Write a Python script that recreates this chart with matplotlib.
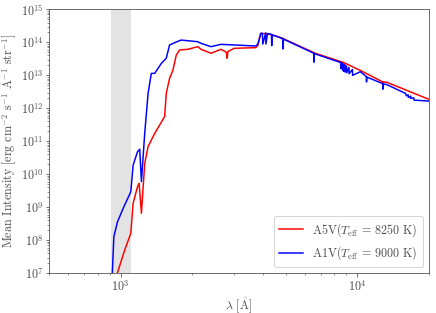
import numpy as np
import matplotlib
matplotlib.use('Agg')
import matplotlib.pyplot as plt

plt.rcParams['font.family'] = 'serif'
plt.rcParams['font.serif'] = ['cmr10']
plt.rcParams['mathtext.fontset'] = 'cm'
plt.rcParams['axes.formatter.use_mathtext'] = True
plt.rcParams['font.size'] = 12

# Espectros (lambda en Angstrom, log10 de la intensidad)
lam_a1v = [923, 937, 971, 1026, 1105, 1130, 1179, 1205, 1225, 1265, 1307, 1349, 1394,
           1486, 1560, 1611, 1691, 1803, 2119, 2188, 2410, 2655, 3724, 3800, 3911,
           3970, 3990, 4100, 4110, 4175, 4340, 4350, 4360, 4601, 4850, 4861, 4875,
           6551, 6563, 6575, 8500, 8540, 8560, 8660, 8680, 8750, 8760, 8860, 8870,
           9010, 9020, 9220, 9230, 9540, 9550, 10300, 10930, 10940, 10950, 12800,
           12818, 12830, 13330, 16000, 16100, 16400, 16420, 16800, 16810, 17300,
           17360, 19950]
logI_a1v = [7.0, 8.11, 8.56, 8.97, 9.47, 10.28, 10.68, 10.76, 9.78, 11.24, 12.45, 13.06,
            13.06, 13.36, 13.52, 13.92, 13.99, 14.07, 14.02, 13.97, 13.87, 13.94, 13.89,
            13.95, 14.27, 14.28, 13.95, 14.29, 13.95, 14.27, 14.24, 13.9, 14.23, 14.17,
            14.11, 13.8, 14.1, 13.67, 13.4, 13.66, 13.39, 13.2, 13.38, 13.36, 13.15,
            13.34, 13.12, 13.32, 13.1, 13.28, 13.08, 13.24, 13.05, 13.18, 13.0, 13.11,
            12.96, 12.8, 12.95, 12.75, 12.58, 12.74, 12.72, 12.45, 12.38, 12.41, 12.33,
            12.37, 12.3, 12.32, 12.25, 12.22]

lam_a5v = [969, 1042, 1105, 1130, 1179, 1198, 1225, 1265, 1307, 1394, 1535, 1560, 1611,
           1665, 1719, 1775, 1925, 2119, 2188, 2410, 2655, 2800, 2820, 2840, 3020,
           3724, 3800, 3911, 4175, 4601, 4850, 4861, 4875, 6551, 6563, 6575, 8752,
           10300, 12800, 12818, 12830, 13330, 19950]
logI_a5v = [7.0, 7.71, 8.21, 9.12, 9.62, 9.73, 8.82, 10.33, 10.84, 11.24, 11.75, 12.45,
            12.91, 13.16, 13.61, 13.77, 13.79, 13.87, 13.79, 13.67, 13.79, 13.7, 13.52,
            13.72, 13.82, 13.84, 13.9, 14.27, 14.26, 14.18, 14.12, 13.98, 14.11, 13.69,
            13.55, 13.68, 13.39, 13.15, 12.8, 12.7, 12.8, 12.79, 12.28]

# Banda de Lyman-Werner
lw_band = (912, 1108)

fig, ax = plt.subplots(figsize=(436 / 72, 313 / 72), dpi=72)
ax.axvspan(lw_band[0], lw_band[1], color='0.89', lw=0)
ax.plot(lam_a5v, 10**np.array(logI_a5v), color='red', lw=1.5,
        label=r'A5V($T_{\rm eff}$ = 8250 K)')
ax.plot(lam_a1v, 10**np.array(logI_a1v), color='blue', lw=1.5,
        label=r'A1V($T_{\rm eff}$ = 9000 K)')
ax.set_xscale('log')
ax.set_yscale('log')
ax.set_xlim(500, 20000)
ax.set_ylim(1e7, 1e15)
ang = r'$\mathring{\rm A}$'
ax.set_xlabel(r'$\lambda$ [' + ang + ']', color='0.3', labelpad=2)
ax.set_ylabel(r'Mean Intensity [erg cm$^{-2}$ s$^{-1}$ $\mathring{\rm A}^{-1}$ str$^{-1}$]',
              color='0.3', labelpad=2)
for s in ax.spines.values():
    s.set_color('0.3')
ax.tick_params(which='both', colors='0.3', labelcolor='0.3', pad=2.5)
ax.legend(loc='lower right', labelcolor='0.3')
fig.subplots_adjust(left=0.113, right=0.983, top=0.97, bottom=0.127)
fig.savefig('out.png')
